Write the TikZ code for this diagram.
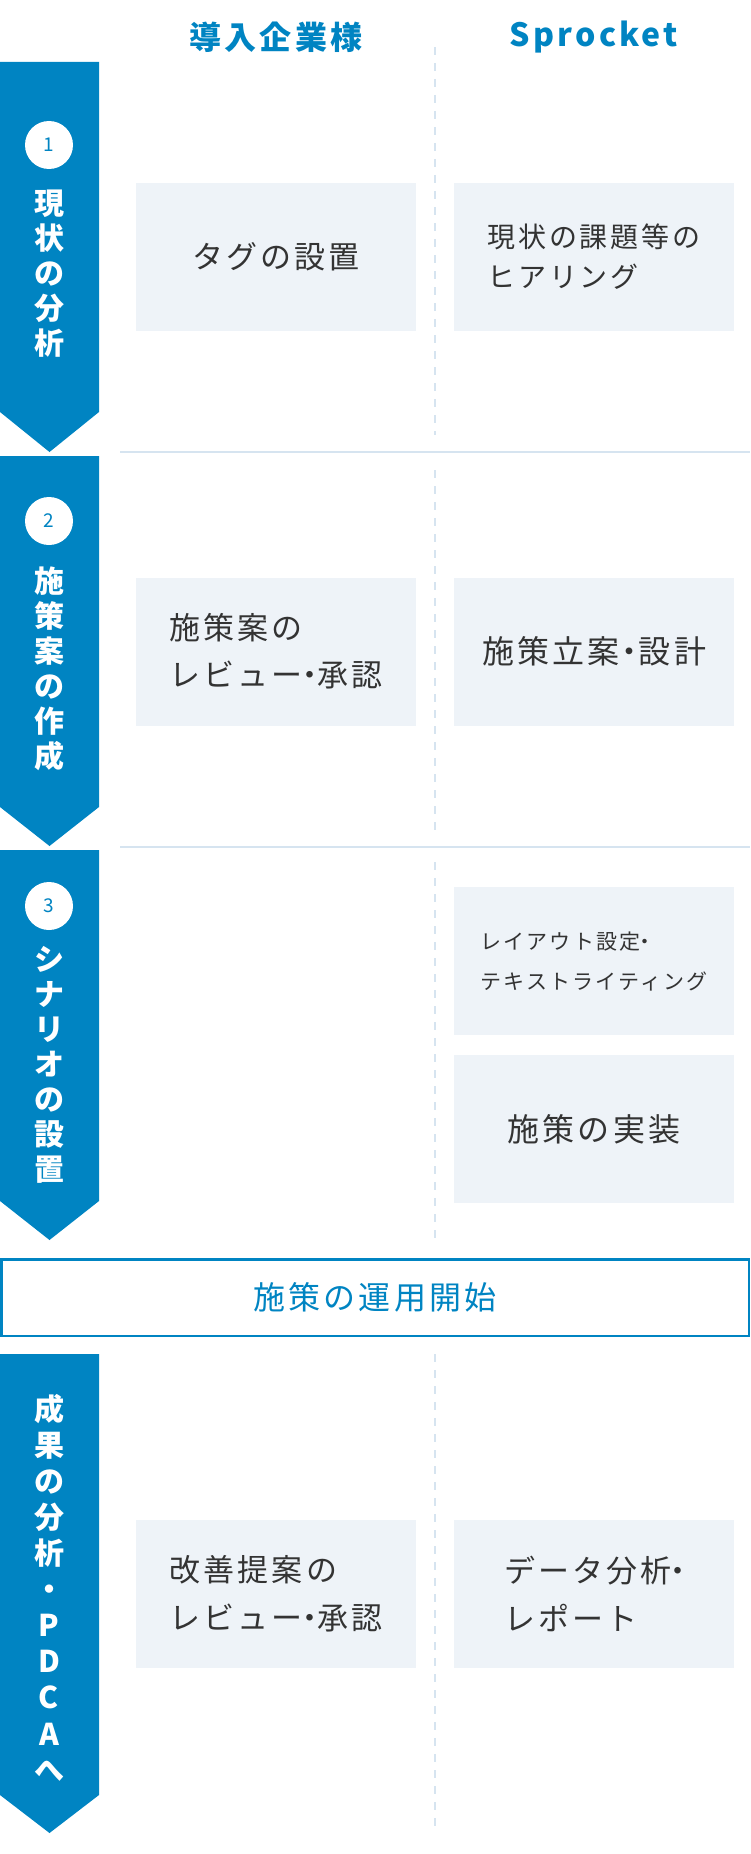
\documentclass[tikz,border=0pt]{standalone}
\usepackage{fontspec}
\setmainfont{Noto Sans CJK JP}
\newfontfamily\jpwide[LetterSpace=10]{Noto Sans CJK JP}

\definecolor{sblue}{RGB}{0,132,194}
\definecolor{sline}{RGB}{214,228,240}
\definecolor{sbox}{RGB}{238,243,248}
\definecolor{stext}{RGB}{51,51,51}

% narrow middle dot
\newcommand\dotsep[1][0.3em]{\kern-#1・\kern-#1}

\tikzset{
	banner/.style={fill=sblue},
	stepnum/.style={circle, fill=white, minimum size=48pt, inner sep=0pt, text=sblue, font=\fontsize{19}{19}\selectfont},
	steptext/.style={text=white, align=center, inner sep=0pt, font=\jpwide\bfseries\fontsize{30}{35}\selectfont},
	head/.style={text=sblue, inner sep=0pt, font=\jpwide\bfseries\fontsize{32}{32}\selectfont},
	task/.style={fill=sbox, text=stext, align=left, minimum width=280pt, minimum height=148pt, inner sep=0pt},
	bigtask/.style={task, font=\jpwide\fontsize{32}{32}\selectfont},
	twotask/.style={task, font=\jpwide\fontsize{31}{47}\selectfont},
	colsep/.style={sline, line width=2pt, dash pattern=on 8pt off 8pt},
	rowsep/.style={sline, line width=2.5pt},
}

\begin{document}
\begin{tikzpicture}[x=1pt, y=-1pt]
		\useasboundingbox (0,0) rectangle (750,1854);

		% Draw the column heads
		\node[head] (client) at (276,37) {導入企業様};
		\node[head] (sprocket) at (594,37) {Sprocket};

		% Draw the separators
		\draw[rowsep] (120,452) -- (750,452);
		\draw[rowsep] (120,847) -- (750,847);
		\draw[colsep] (435,47) -- (435,435);
		\draw[colsep] (435,470) -- (435,830);
		\draw[colsep] (435,862) -- (435,1238);
		\draw[colsep] (435,1354) -- (435,1827);

		% Draw the step arrows
		\fill[banner] (0,62) -- (99,62) -- (99,412) -- (49.5,452) -- (0,412) -- cycle;
		\fill[banner] (0,456) -- (99,456) -- (99,807) -- (49.5,846) -- (0,807) -- cycle;
		\fill[banner] (0,850) -- (99,850) -- (99,1201) -- (49.5,1240) -- (0,1201) -- cycle;
		\fill[banner] (0,1354) -- (99,1354) -- (99,1795) -- (49.5,1833) -- (0,1795) -- cycle;

		\node[stepnum] (num1) at (49,145) {1};
		\node[stepnum] (num2) at (49,521) {2};
		\node[stepnum] (num3) at (49,906) {3};

		\node[steptext] (step1) at (49,273.5) {現\\状\\の\\分\\析};
		\node[steptext] (step2) at (49,668.5) {施\\策\\案\\の\\作\\成};
		\node[steptext] (step3) at (49,1065) {シ\\ナ\\リ\\オ\\の\\設\\置};
		\node[steptext, font=\jpwide\bfseries\fontsize{30}{36.1}\selectfont] (step4) at (49,1587.5) {成\\果\\の\\分\\析\\・\\P\\D\\C\\A\\へ};

		% Step 1
		\node[bigtask, font=\jpwide\fontsize{31}{31}\selectfont] (tag) at (276,257) {タグの設置};
		\node[twotask, font=\jpwide\fontsize{28}{40}\selectfont] (hearing) at (594,257) {現状の課題等の\\ヒアリング};

		% Step 2
		\node[twotask] (review) at (276,651.5) {施策案の\\レビュー\dotsep[0.27em]承認};
		\node[bigtask] (plan) at (594,651.5) {施策立案\dotsep[0.2em]設計};

		% Step 3
		\node[twotask, font=\jpwide\fontsize{21}{40}\selectfont] (layout) at (594,961) {レイアウト設定\dotsep\\テキストライティング};
		\node[bigtask] (build) at (594,1129) {施策の実装};

		% Launch
		\node[draw=sblue, line width=2.5pt, minimum width=747.5pt, minimum height=76.5pt, text=sblue, font=\jpwide\fontsize{32}{32}\selectfont] (launch) at (375,1297.5) {施策の運用開始};

		% Step 4
		\node[twotask, font=\jpwide\fontsize{31}{48}\selectfont] (improve) at (276,1594) {改善提案の\\レビュー\dotsep[0.27em]承認};
		\node[twotask, font=\jpwide\fontsize{31}{48}\selectfont] (report) at (594,1594) {データ分析\dotsep\\レポート};

	\end{tikzpicture}
\end{document}
